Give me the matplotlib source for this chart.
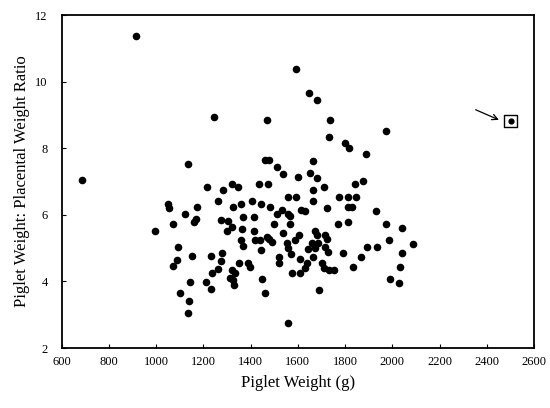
import numpy as np
import matplotlib
matplotlib.use("Agg")
import matplotlib.pyplot as plt

# piglet weight (g) vs piglet weight : placental weight ratio
piglet_weight = [
    915, 686, 1592, 1648, 1680, 1246, 1469, 1737, 1733, 1800,
    1817, 1973, 1888, 1663, 1134, 1462, 1480, 1512, 1536, 1599,
    1652, 1680, 1217, 1283, 1322, 1346, 1437, 1472, 1712, 1843,
    1874, 1663, 1260, 1051, 1055, 1172, 1326, 1358, 1405, 1445,
    1483, 1560, 1592, 1666, 1775, 1811, 1848, 1723, 1615, 1632,
    1811, 1828, 1929, 1532, 1558, 1567, 1123, 1167, 1159, 1073,
    996, 1274, 1306, 1321, 1299, 1370, 1415, 1363, 1415, 1511,
    1500, 1567, 1772, 1813, 1973, 2039, 1539, 1603, 1589, 1673,
    1680, 1716, 1723, 1659, 1687, 1645, 1673, 1716, 1727, 1553,
    1560, 1572, 1521, 1521, 1610, 1638, 1631, 1575, 1610, 1666,
    1702, 1709, 1730, 1755, 1793, 1868, 1892, 1937, 1984, 2086,
    2042, 1833, 2032, 1691, 1992, 2028, 1559, 1359, 1370, 1419,
    1440, 1469, 1479, 1490, 1443, 1092, 1151, 1088, 1071, 1233,
    1278, 1273, 1236, 1260, 1321, 1335, 1327, 1313, 1353, 1387,
    1398, 1145, 1213, 1234, 1102, 1330, 1448, 1460, 1141, 1133,
]
weight_ratio = [
    11.37, 7.04, 10.37, 9.65, 9.44, 8.95, 8.85, 8.84, 8.34, 8.16,
    8.02, 8.52, 7.84, 7.63, 7.54, 7.64, 7.64, 7.45, 7.24, 7.13,
    7.26, 7.12, 6.84, 6.74, 6.94, 6.84, 6.94, 6.94, 6.84, 6.92,
    7.03, 6.74, 6.42, 6.33, 6.22, 6.25, 6.24, 6.33, 6.43, 6.34,
    6.24, 6.54, 6.54, 6.42, 6.54, 6.54, 6.54, 6.22, 6.16, 6.13,
    6.23, 6.23, 6.11, 6.14, 6.04, 5.96, 6.04, 5.89, 5.80, 5.74,
    5.53, 5.84, 5.82, 5.64, 5.52, 5.94, 5.94, 5.59, 5.52, 6.02,
    5.74, 5.72, 5.73, 5.80, 5.73, 5.62, 5.44, 5.39, 5.24, 5.52,
    5.39, 5.39, 5.26, 5.14, 5.14, 4.96, 4.99, 5.04, 4.89, 5.14,
    4.99, 4.82, 4.72, 4.56, 4.66, 4.56, 4.39, 4.26, 4.26, 4.74,
    4.56, 4.39, 4.34, 4.34, 4.86, 4.72, 5.03, 5.03, 5.23, 5.12,
    4.84, 4.44, 4.43, 3.74, 4.06, 3.94, 2.76, 5.24, 5.06, 5.24,
    5.24, 5.34, 5.27, 5.19, 4.94, 5.04, 4.75, 4.64, 4.45, 4.75,
    4.86, 4.60, 4.26, 4.36, 4.34, 4.26, 4.04, 4.09, 4.56, 4.56,
    4.44, 3.98, 3.97, 3.76, 3.66, 3.89, 4.06, 3.65, 3.40, 3.04,
]

# flagged outlier and arrow pointing at it
outlier_x, outlier_y = 2502, 8.82
arrow_tail = (2342, 9.19)

x_ticks = [600, 800, 1000, 1200, 1400, 1600, 1800, 2000, 2200, 2400, 2600]
y_ticks = [2, 4, 6, 8, 10, 12]

plt.rcParams['font.family'] = ['Liberation Serif', 'DejaVu Serif']

fig = plt.figure(figsize=(5.5, 4.08), dpi=100)
ax = fig.add_axes([0.112, 0.147, 0.859, 0.816])

ax.scatter(piglet_weight, weight_ratio, s=20, color="black", zorder=3)
ax.scatter([outlier_x], [outlier_y], s=12, color="black", zorder=3)
ax.scatter([outlier_x], [outlier_y], s=85, marker="s", facecolor="none",
           edgecolor="black", linewidth=1.0, zorder=3)
ax.annotate("", xy=(outlier_x - 40, outlier_y), xytext=arrow_tail,
            arrowprops=dict(arrowstyle="->", color="black", lw=0.9))

ax.set_xlim(600, 2600)
ax.set_ylim(2, 12)
ax.set_xticks(x_ticks)
ax.set_yticks(y_ticks)
ax.tick_params(direction="in", length=3, labelsize=9, width=0.8)
ax.tick_params(axis="x", pad=6)
ax.tick_params(axis="y", pad=10)
for sp in ax.spines.values():
    sp.set_linewidth(1.3)

ax.set_xlabel("Piglet Weight (g)", fontsize=12, labelpad=5)
ax.set_ylabel("Piglet Weight: Placental Weight Ratio", fontsize=12, labelpad=4)

fig.savefig("out.png", dpi=100)
